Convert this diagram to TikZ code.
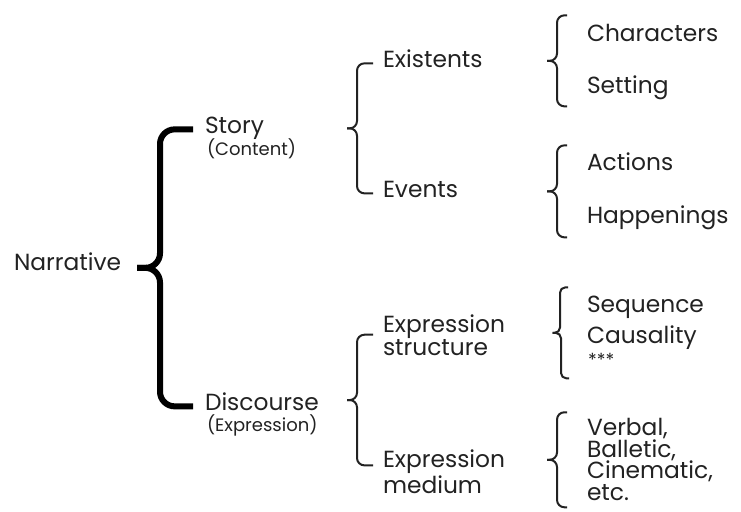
\documentclass[tikz,border=0pt]{standalone}
\usepackage{fontspec}
\setmainfont{Poppins}
\usetikzlibrary{calc}
\definecolor{inkgray}{HTML}{222222}

% curly bracket: #2 top end, #3 bottom end, #4 tip depth, #5 spine depth
\newcommand{\curly}[5][brace]{%
  \draw[#1] (#2) -- ++(-#5,0) |- ($(#2)!0.5!(#3)+(-#4,0)$);
  \draw[#1] (#3) -- ++(-#5,0) |- ($(#2)!0.5!(#3)+(-#4,0)$);
}

\begin{document}
\begin{tikzpicture}[x=0.75pt, y=-0.75pt,
    every node/.style={inner sep=0pt, outer sep=0pt, text=inkgray, anchor=base west},
    term/.style={font=\fontsize{17.5}{17.25}\selectfont},
    note/.style={font=\fontsize{13.5}{14}\selectfont},
    bigbrace/.style={draw=black, line width=4.5pt, rounded corners=11pt},
    brace/.style={draw=inkgray, line width=1.5pt, rounded corners=5.5pt},
    smallbrace/.style={draw=inkgray, line width=1.5pt, rounded corners=4pt}]
  \useasboundingbox (0,0) rectangle (741,511);

  % first level
  \node[term] (narrative) at (14,270) {Narrative};
  \node[term] (story) at (205,133) {Story};
  \node[note] (content) at (207,155) {(Content)};
  \node[term] (discourse) at (205,410) {Discourse};
  \node[note] (expression) at (207,431) {(Expression)};

  % second level (base = last line)
  \node[term] (existents) at (383,67) {Existents};
  \node[term] (events) at (383,197) {Events};
  \node[term, align=left] (exstruct) at (383,355) {Expression\\structure};
  \node[term, align=left] (exmedium) at (383,493) {Expression\\medium};

  % third level
  \node[term] (characters) at (587,41) {Characters};
  \node[term] (setting) at (587,93) {Setting};
  \node[term] (actions) at (587,170) {Actions};
  \node[term] (happenings) at (587,223) {Happenings};
  \node[term] (sequence) at (587,312) {Sequence};
  \node[term] (causality) at (587,343) {Causality};
  \node[note] (stars) at (588,366) {***};
  \node[font=\fontsize{17.5}{16.1}\selectfont, align=left] (media) at (587,500)
    {Verbal,\\Balletic,\\Cinematic,\\etc.};

  % brackets
  \curly[bigbrace]{$(story.mid west)+(-12,0)$}{$(discourse.mid west)+(-12,0)$}{56}{33}
  \curly{$(existents.mid west)+(-10,0)$}{$(events.mid west)+(-10,0)$}{26}{16}
  \curly{$(exstruct.west)+(-10,0)$}{$(exmedium.mid west)+(-10,-24)$}{26}{16}
  \curly{$(characters.mid west)+(-20,-22)$}{$(setting.mid west)+(-20,17)$}{20}{10}
  \curly{$(actions.mid west)+(-20,-21)$}{$(happenings.mid west)+(-20,18)$}{20}{10}
  \curly[smallbrace]{$(sequence.mid west)+(-19,-21)$}{$(stars.mid west)+(-19,16)$}{16}{8}
  \curly{$(media.west)+(-20,-47)$}{$(media.west)+(-20,48)$}{20}{10}
\end{tikzpicture}
\end{document}
